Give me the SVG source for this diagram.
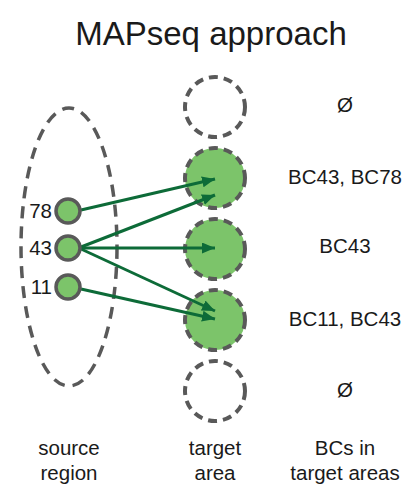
<svg xmlns="http://www.w3.org/2000/svg" width="420" height="499" viewBox="0 0 420 499">
<style>
text{font-family:"Liberation Sans",Arial,sans-serif;fill:#1a1a1a;}
.lbl{font-size:20.5px;text-anchor:middle;}
.num{font-size:20.5px;text-anchor:end;}
.src{fill:#7cc46a;stroke:#595959;stroke-width:3.5;}
.tgt{stroke:#595959;stroke-width:4;stroke-dasharray:9 6;}
.full{fill:#7cc46a;}
.empty{fill:none;}
.arr{stroke:#0d6b38;stroke-width:3;fill:none;marker-end:url(#ah);}
</style>
<defs>
<marker id="ah" markerUnits="userSpaceOnUse" markerWidth="14" markerHeight="12" refX="13" refY="5.5" orient="auto">
<path d="M0,0 L13,5.5 L0,11 z" fill="#0d6b38"/>
</marker>
</defs>
<rect width="420" height="499" fill="#fff"/>
<text x="211" y="45" style="font-size:33px;text-anchor:middle">MAPseq approach</text>
<g id="source-region">
<ellipse cx="69" cy="247" rx="48" ry="139" fill="none" stroke="#595959" stroke-width="3.5" stroke-dasharray="12 8"/>
</g>
<g id="target1"><circle class="tgt empty" cx="215" cy="107" r="30"/></g>
<g id="target2"><circle class="tgt full" cx="215" cy="178" r="30"/></g>
<g id="target3"><circle class="tgt full" cx="215" cy="249" r="30"/></g>
<g id="target4"><circle class="tgt full" cx="215" cy="320" r="30"/></g>
<g id="target5"><circle class="tgt empty" cx="215" cy="391" r="30"/></g>
<g id="connectors">
<line class="arr" x1="81" y1="210" x2="215" y2="179"/>
<line class="arr" x1="81" y1="247" x2="215" y2="195"/>
<line class="arr" x1="81" y1="248" x2="215" y2="248"/>
<line class="arr" x1="81" y1="249" x2="215" y2="311"/>
<line class="arr" x1="81" y1="289" x2="215" y2="319"/>
</g>
<g id="neuron78"><circle class="src" cx="68" cy="211" r="12"/><text class="num" x="52" y="218">78</text></g>
<g id="neuron43"><circle class="src" cx="68" cy="248" r="12"/><text class="num" x="52" y="255">43</text></g>
<g id="neuron11"><circle class="src" cx="68" cy="287" r="12"/><text class="num" x="52" y="294">11</text></g>
<g id="bc-labels">
<text class="lbl" x="345" y="112">Ø</text>
<text class="lbl" x="345" y="184">BC43, BC78</text>
<text class="lbl" x="345" y="253">BC43</text>
<text class="lbl" x="345" y="326">BC11, BC43</text>
<text class="lbl" x="345" y="397">Ø</text>
</g>
<g id="axis-labels">
<text class="lbl" x="69" y="455">source</text>
<text class="lbl" x="69" y="480">region</text>
<text class="lbl" x="215" y="455">target</text>
<text class="lbl" x="215" y="480">area</text>
<text class="lbl" x="345" y="455">BCs in</text>
<text class="lbl" x="345" y="480">target areas</text>
</g>
</svg>
